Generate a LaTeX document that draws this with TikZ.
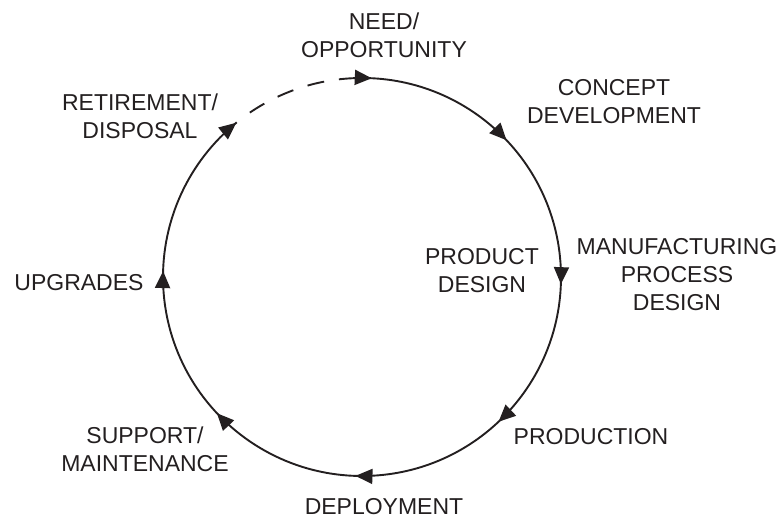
\documentclass[tikz,border=0pt]{standalone}
\usepackage{fontspec}
\setmainfont{Liberation Sans}
\usetikzlibrary{arrows.meta,decorations.markings}
\definecolor{ink}{RGB}{35,31,32}
\newcommand\cycarrow{\arrow[ink]{Triangle[length=17pt,width=15pt]}}
\begin{document}
\begin{tikzpicture}[x=1pt,y=1pt,
  lbl/.style={font=\fontsize{23}{28}\selectfont, text=ink, align=center, inner sep=0pt},
  cyc/.style={line width=1.9pt, draw=ink},
  marks/.style={postaction={decorate},
    decoration={markings,
      mark=at position 15pt with {\cycarrow},
      mark=at position 167pt with {\cycarrow},
      mark=at position 325pt with {\cycarrow},
      mark=at position 480pt with {\cycarrow},
      mark=at position 637pt with {\cycarrow},
      mark=at position 793pt with {\cycarrow},
      mark=at position 949pt with {\cycarrow},
      mark=at position 1119.5pt with {\cycarrow}}}]
\useasboundingbox (0,0) rectangle (783,519);
\coordinate (c) at (362,242);
% life-cycle circle
\draw[cyc, marks] (c) ++(91.5:199) arc[start angle=91.5, end angle=-231, radius=199];
\draw[cyc, dash pattern=on 17pt off 15pt] (c) ++(124.3:199) arc[start angle=124.3, end angle=91.5, radius=199];
% labels
\node[lbl] (need) at (384,484) {NEED/\\OPPORTUNITY};
\node[lbl] (concept) at (614,417) {CONCEPT\\DEVELOPMENT};
\node[lbl] (retire) at (140,403) {RETIREMENT/\\DISPOSAL};
\node[lbl] (product) at (482,248) {PRODUCT\\DESIGN};
\node[lbl] (mfg) at (677,244) {MANUFACTURING\\PROCESS\\DESIGN};
\node[lbl] (upgrades) at (79,236) {UPGRADES};
\node[lbl] (production) at (591,82) {PRODUCTION};
\node[lbl] (deploy) at (384,12) {DEPLOYMENT};
\node[lbl] (support) at (145,70) {SUPPORT/\\MAINTENANCE};
\end{tikzpicture}
\end{document}
